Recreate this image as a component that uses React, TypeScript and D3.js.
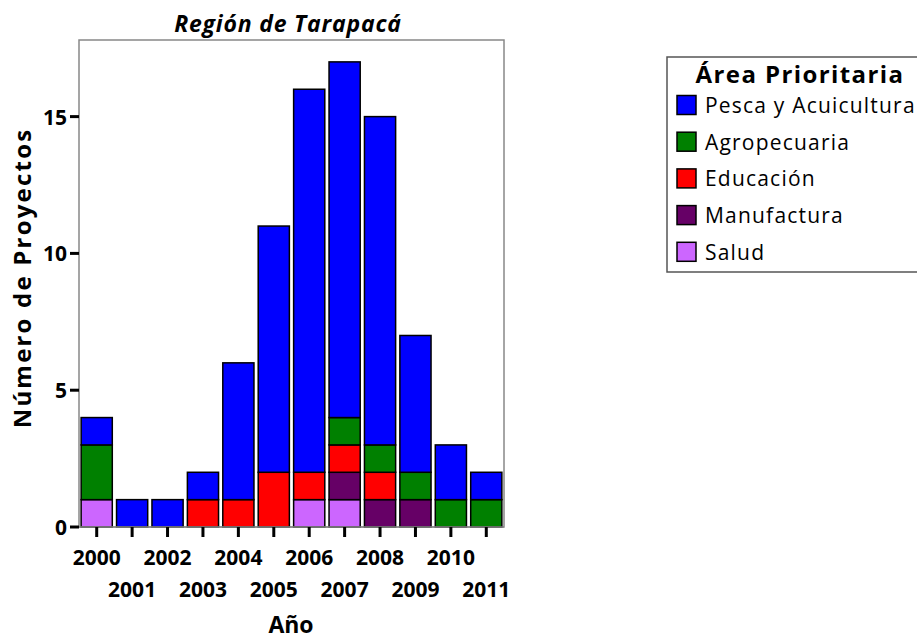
import React from "react";
import * as d3 from "d3";

const years = ["2000","2001","2002","2003","2004","2005","2006","2007","2008","2009","2010","2011"];
const seriesNames = ["Salud","Manufactura","Educación","Agropecuaria","Pesca y Acuicultura"];
const salud =        [1,0,0,0,0,0,1,1,0,0,0,0];
const manufactura =  [0,0,0,0,0,0,0,1,1,1,0,0];
const educacion =    [0,0,0,1,1,2,1,1,1,0,0,0];
const agropecuaria = [2,0,0,0,0,0,0,1,1,1,1,1];
const pesca =        [1,1,1,1,5,9,14,13,12,5,2,1];
const colors = ["#CC66FF","#660066","#FF0000","#008000","#0000FF"];
const yTicks = [0,5,10,15];
const legendOrder = [4,3,2,1,0];

const FONT = "'Open Sans', sans-serif";

export default function App() {
  const W = 917, H = 642;
  const left = 79, right = 504, top = 40, bottom = 527;
  const x = d3.scaleBand().domain(years).range([left, right]).paddingInner(0.12).paddingOuter(0.06);
  const y = d3.scaleLinear().domain([0, 17.8]).range([bottom, top]);
  const table = years.map((yr, i) => ({
    year: yr,
    "Salud": salud[i], "Manufactura": manufactura[i], "Educación": educacion[i],
    "Agropecuaria": agropecuaria[i], "Pesca y Acuicultura": pesca[i],
  }));
  const stack = d3.stack<any>().keys(seriesNames)(table);

  return (
    <svg width={W} height={H} style={{ position: "absolute", left: 0, top: 0 }}>
      <rect x={0} y={0} width={W} height={H} fill="#fff" />
      <text x={288} y={32} textAnchor="middle" fontFamily={FONT} fontWeight="bold" fontStyle="italic" fontSize={23} letterSpacing={0.8}>Región de Tarapacá</text>
      <rect x={left} y={top} width={right - left} height={bottom - top} fill="none" stroke="#888" strokeWidth={1.5} />
      {stack.map((s, si) =>
        s.map((d, i) => {
          if (d[1] - d[0] <= 0) return null;
          return (
            <rect key={si + "-" + i} x={x(years[i])!} width={x.bandwidth()} y={y(d[1])} height={y(d[0]) - y(d[1])}
              fill={colors[si]} stroke="#000" strokeWidth={1.5} />
          );
        })
      )}
      <line x1={left} x2={right} y1={bottom} y2={bottom} stroke="#888" strokeWidth={1.5} />
      {yTicks.map(t => (
        <g key={t}>
          <line x1={70} x2={left} y1={y(t)} y2={y(t)} stroke="#000" strokeWidth={3} />
          <text x={67} y={y(t) + 8} textAnchor="end" fontFamily={FONT} fontWeight="bold" fontSize={21}>{t}</text>
        </g>
      ))}
      {years.map((yr, i) => {
        const cx = x(yr)! + x.bandwidth() / 2;
        return (
          <g key={yr}>
            <line x1={cx} x2={cx} y1={bottom} y2={bottom + 10} stroke="#000" strokeWidth={3} />
            <text x={cx} y={i % 2 === 0 ? 565 : 597} textAnchor="middle" fontFamily={FONT} fontWeight="bold" fontSize={21}>{yr}</text>
          </g>
        );
      })}
      <text x={291} y={633} textAnchor="middle" fontFamily={FONT} fontWeight="bold" fontSize={23}>Año</text>
      <text transform={`translate(31,278) rotate(-90)`} textAnchor="middle" fontFamily={FONT} fontWeight="bold" fontSize={24} letterSpacing={2.2}>Número de Proyectos</text>
      <rect x={667} y={57} width={260} height={215} fill="#fff" stroke="#555" strokeWidth={1.5} />
      <text x={800} y={83} textAnchor="middle" fontFamily={FONT} fontWeight="bold" fontSize={24} letterSpacing={1.4}>Área Prioritaria</text>
      {legendOrder.map((si, k) => {
        const cy = 105 + k * 36.7;
        return (
          <g key={si}>
            <rect x={677} y={cy - 9.5} width={19} height={19} fill={colors[si]} stroke="#000" strokeWidth={1.5} />
            <text x={705} y={cy + 8} fontFamily={FONT} fontSize={21} letterSpacing={1.2}>{seriesNames[si]}</text>
          </g>
        );
      })}
    </svg>
  );
}
